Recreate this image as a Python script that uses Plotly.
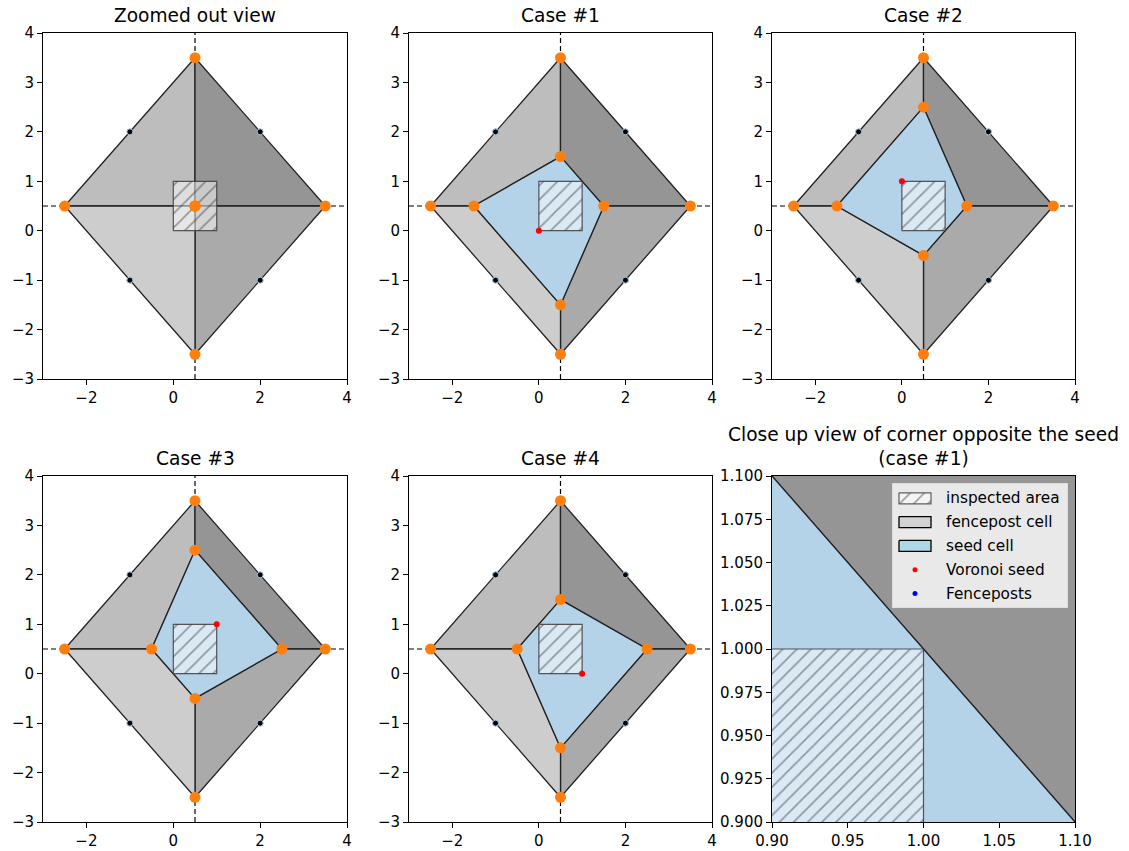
import plotly.graph_objects as go

# ---------------- data ----------------
# outer diamond vertices: top, right, bottom, left
outer_x = [0.5, 3.5, 0.5, -2.5]
outer_y = [3.5, 0.5, -2.5, 0.5]

# fenceposts
fence_x = [-1, 2, -1, 2]
fence_y = [2, 2, -1, -1]

panel_titles = ["Zoomed out view", "Case #1", "Case #2", "Case #3", "Case #4"]
# voronoi seed per panel (None for zoomed out view)
seed_x = [None, 0, 0, 1, 1]
seed_y = [None, 0, 1, 1, 0]
# seed cell inner vertices per panel: top y, right x, bottom y, left x (on the lines x=0.5 / y=0.5)
inner_top = [0.5, 1.5, 2.5, 2.5, 1.5]
inner_right = [0.5, 1.5, 1.5, 2.5, 2.5]
inner_bottom = [0.5, -1.5, -0.5, -0.5, -1.5]
inner_left = [0.5, -1.5, -1.5, -0.5, -0.5]

# inspected area
insp_x = [0, 1, 1, 0]
insp_y = [0, 0, 1, 1]

# dashed guide lines
guide_v = 0.5
guide_h = 0.5

main_range = [-3, 4]
main_xticks = [-2, 0, 2, 4]
main_yticks = [-3, -2, -1, 0, 1, 2, 3, 4]
zoom_range = [0.9, 1.1]
zoom_xticks = [0.90, 0.95, 1.00, 1.05, 1.10]
zoom_yticks = [0.900, 0.925, 0.950, 0.975, 1.000, 1.025, 1.050, 1.075, 1.100]

legend_labels = ["inspected area", "fencepost cell", "seed cell", "Voronoi seed", "Fenceposts"]

quad_colors = ["#bdbdbd", "#959595", "#aaaaaa", "#cdcdcd"]  # TL, TR, BR, BL
seed_cell_color = "#b4d3e9"

# ---------------- layout geometry ----------------
W, H = 1129, 851
col_px = [(43, 347), (409, 712), (772, 1075)]
row_px = [(33, 379), (476, 822)]
FONT = "DejaVu Sans"
TICK_SIZE = 15
TITLE_SIZE = 18.6
LEG_SIZE = 15.3

def xdom(c):
    return [col_px[c][0] / W, col_px[c][1] / W]

def ydom(r):
    return [1 - row_px[r][1] / H, 1 - row_px[r][0] / H]

fig = go.Figure()
layout = dict(width=W, height=H, margin=dict(l=0, r=0, t=0, b=0),
              paper_bgcolor="white", plot_bgcolor="white",
              font=dict(family=FONT, size=TICK_SIZE, color="black"),
              showlegend=False, annotations=[])

def add_axis(i, r, c, rng, xt, yt, xfmt, yfmt):
    ax = dict(range=rng, showgrid=False, zeroline=False, showline=True, mirror=True,
              linecolor="black", linewidth=1, ticks="outside", ticklen=5, tickwidth=1,
              tickcolor="black", automargin=False,
              tickfont=dict(family=FONT, size=TICK_SIZE, color="black"))
    sx = "" if i == 1 else str(i)
    layout["xaxis" + sx] = dict(ax, domain=xdom(c), anchor="y" + sx, tickmode="array",
                                tickvals=xt, tickformat=xfmt)
    layout["yaxis" + sx] = dict(ax, domain=ydom(r), anchor="x" + sx, tickmode="array",
                                tickvals=yt, tickformat=yfmt)
    return "x" + sx, "y" + sx

def cells(p):
    T_o = (outer_x[0], outer_y[0]); R_o = (outer_x[1], outer_y[1])
    B_o = (outer_x[2], outer_y[2]); L_o = (outer_x[3], outer_y[3])
    T_i = (guide_v, inner_top[p]); R_i = (inner_right[p], guide_h)
    B_i = (guide_v, inner_bottom[p]); L_i = (inner_left[p], guide_h)
    quads = [[L_o, T_o, T_i, L_i], [T_o, R_o, R_i, T_i],
             [R_o, B_o, B_i, R_i], [B_o, L_o, L_i, B_i]]
    seed = [T_i, R_i, B_i, L_i]
    return quads, seed, [T_o, R_o, B_o, L_o, T_i, R_i, B_i, L_i]

def poly(pts):
    xs = [q[0] for q in pts] + [pts[0][0]]
    ys = [q[1] for q in pts] + [pts[0][1]]
    return xs, ys

HATCH = dict(shape="/", fgcolor="rgba(45,45,45,0.9)", bgcolor="rgba(255,255,255,0.5)",
             size=10, solidity=0.16)

def draw_panel(p, xa, ya, closeup=False):
    quads, seed, verts = cells(p)
    if not closeup:
        for gx, gy in ((main_range, [guide_h, guide_h]), ([guide_v, guide_v], main_range)):
            fig.add_trace(go.Scatter(x=gx, y=gy, mode="lines",
                                     line=dict(color="black", width=1.2, dash="5px,3px"),
                                     xaxis=xa, yaxis=ya, hoverinfo="skip"))
    for q, col in zip(quads, quad_colors):
        xs, ys = poly(q)
        fig.add_trace(go.Scatter(x=xs, y=ys, mode="lines", fill="toself", fillcolor=col,
                                 line=dict(color="#222", width=1.3), xaxis=xa, yaxis=ya,
                                 hoverinfo="skip"))
    if seed_x[p] is not None:
        xs, ys = poly(seed)
        fig.add_trace(go.Scatter(x=xs, y=ys, mode="lines", fill="toself",
                                 fillcolor=seed_cell_color,
                                 line=dict(color="#222", width=1.3), xaxis=xa, yaxis=ya,
                                 hoverinfo="skip"))
    xs, ys = poly(list(zip(insp_x, insp_y)))
    fig.add_trace(go.Scatter(x=xs, y=ys, mode="lines", fill="toself",
                             fillcolor="rgba(255,255,255,0.5)", fillpattern=HATCH,
                             line=dict(color="rgba(60,60,60,0.85)", width=1.2),
                             xaxis=xa, yaxis=ya, hoverinfo="skip"))
    if not closeup:
        fig.add_trace(go.Scatter(x=fence_x, y=fence_y, mode="markers",
                                 marker=dict(color="black", size=6,
                                             line=dict(color="#9ec3e3", width=1)),
                                 xaxis=xa, yaxis=ya, hoverinfo="skip"))
        vx = [v[0] for v in verts]
        vy = [v[1] for v in verts]
        fig.add_trace(go.Scatter(x=vx, y=vy, mode="markers",
                                 marker=dict(color="#ff7f0e", size=11),
                                 xaxis=xa, yaxis=ya, hoverinfo="skip"))
        if seed_x[p] is not None:
            fig.add_trace(go.Scatter(x=[seed_x[p]], y=[seed_y[p]], mode="markers",
                                     marker=dict(color="red", size=6),
                                     xaxis=xa, yaxis=ya, hoverinfo="skip"))

def add_title(text, c, r):
    cx = (col_px[c][0] + col_px[c][1]) / 2 / W
    layout["annotations"].append(dict(text=text, x=cx, xref="paper",
                                      y=1 - (row_px[r][0] - 5) / H, yref="paper",
                                      xanchor="center", yanchor="bottom", showarrow=False,
                                      font=dict(family=FONT, size=TITLE_SIZE, color="black")))

positions = [(0, 0), (0, 1), (0, 2), (1, 0), (1, 1)]
for p, (r, c) in enumerate(positions):
    xa, ya = add_axis(p + 1, r, c, main_range, main_xticks, main_yticks, None, None)
    draw_panel(p, xa, ya)
    add_title(panel_titles[p], c, r)

# close-up (case #1)
xa, ya = add_axis(6, 1, 2, zoom_range, zoom_xticks, zoom_yticks, ".2f", ".3f")
draw_panel(1, xa, ya, closeup=True)
add_title("Close up view of corner opposite the seed<br>(case #1)", 2, 1)

# ---------------- legend (inside close-up axes, upper right) ----------------
LB = (892, 483, 1068, 608)  # box in pixels: left, top, right, bottom
lw, lh = LB[2] - LB[0], LB[3] - LB[1]
layout["xaxis7"] = dict(domain=[LB[0] / W, LB[2] / W], range=[0, lw], visible=False,
                        anchor="y7", fixedrange=True)
layout["yaxis7"] = dict(domain=[1 - LB[3] / H, 1 - LB[1] / H], range=[lh, 0], visible=False,
                        anchor="x7", fixedrange=True)
fig.add_trace(go.Scatter(x=[0, lw, lw, 0, 0], y=[0, 0, lh, lh, 0], mode="lines", fill="toself",
                         fillcolor="#e9e9e9", line=dict(color="#d2d2d2", width=1),
                         xaxis="x7", yaxis="y7", hoverinfo="skip"))
row_y = [15.3 + 23.8 * i for i in range(len(legend_labels))]
px0, px1, ph = 7, 39, 5.5
patch_styles = [
    dict(fillcolor="rgba(255,255,255,0.6)", fillpattern=HATCH,
         line=dict(color="rgba(80,80,80,0.9)", width=1.2)),
    dict(fillcolor="#d3d3d3", line=dict(color="black", width=1.3)),
    dict(fillcolor="#add8e6", line=dict(color="black", width=1.3)),
]
for i, st in enumerate(patch_styles):
    yc = row_y[i]
    fig.add_trace(go.Scatter(x=[px0, px1, px1, px0, px0],
                             y=[yc - ph, yc - ph, yc + ph, yc + ph, yc - ph],
                             mode="lines", fill="toself", xaxis="x7", yaxis="y7",
                             hoverinfo="skip", **st))
for i, col in ((3, "red"), (4, "blue")):
    fig.add_trace(go.Scatter(x=[(px0 + px1) / 2], y=[row_y[i]], mode="markers",
                             marker=dict(color=col, size=5), xaxis="x7", yaxis="y7",
                             hoverinfo="skip"))
for i, lab in enumerate(legend_labels):
    layout["annotations"].append(dict(text=lab, x=52, y=row_y[i], xref="x7", yref="y7",
                                      xanchor="left", yanchor="middle", showarrow=False,
                                      font=dict(family=FONT, size=LEG_SIZE, color="black")))

fig.update_layout(**layout)
fig.write_html("out.html")
